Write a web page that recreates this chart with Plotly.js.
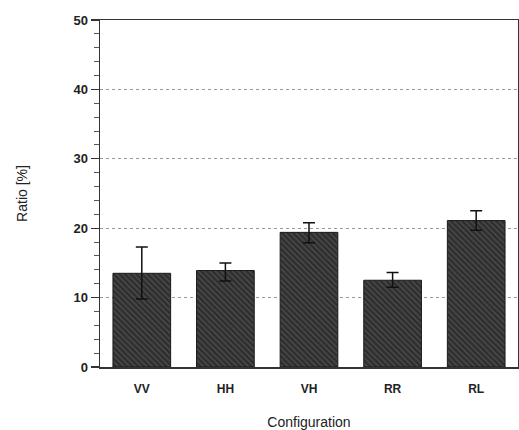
<!DOCTYPE html>
<html>
<head>
<meta charset="utf-8">
<script src="https://cdn.plot.ly/plotly-3.0.1.min.js"></script>
<style>html,body{margin:0;padding:0;background:#fff;}#chart{width:519px;height:430px;}</style>
</head>
<body>
<div id="chart"></div>
<script>
// Data
const categories = ['VV', 'HH', 'VH', 'RR', 'RL'];
const ratioValues = [13.5, 13.9, 19.4, 12.5, 21.1];
const errorPlus = [3.8, 1.1, 1.4, 1.1, 1.4];
const errorMinus = [3.7, 1.5, 1.5, 1.0, 1.4];
const yTickValues = [0, 10, 20, 30, 40, 50];
const yTickLabels = ['0', '10', '20', '30', '40', '50'];

const trace = {
  type: 'bar',
  x: categories,
  y: ratioValues,
  width: 0.69,
  marker: {
    color: '#333333',
    line: {color: '#1a1a1a', width: 1},
    pattern: {shape: '\\', fgcolor: '#4d4d4d', bgcolor: '#2e2e2e', size: 4, solidity: 0.35}
  },
  error_y: {
    type: 'data',
    symmetric: false,
    array: errorPlus,
    arrayminus: errorMinus,
    color: '#111',
    thickness: 1.5,
    width: 6
  },
  hoverinfo: 'none'
};

const layout = {
  width: 519,
  height: 430,
  margin: {l: 100, r: 1, t: 20, b: 63},
  paper_bgcolor: '#fff',
  plot_bgcolor: '#fff',
  showlegend: false,
  bargap: 0.31,
  font: {family: 'Liberation Sans, Arial, sans-serif', color: '#222'},
  xaxis: {
    type: 'category',
    range: [-0.5, 4.5],
    showline: true,
    linecolor: '#333',
    linewidth: 1.5,
    mirror: true,
    ticks: '',
    showgrid: false,
    ticklabelstandoff: 10,
    tickfont: {size: 12, color: '#222', family: 'Liberation Sans, Arial, sans-serif', weight: 'bold'},
    title: {text: 'Configuration', font: {size: 14, color: '#222'}, standoff: 22}
  },
  yaxis: {
    range: [0, 50],
    tickvals: yTickValues,
    ticktext: yTickLabels,
    ticks: 'outside',
    ticklen: 8,
    tickwidth: 1.2,
    tickcolor: '#333',
    showline: true,
    linecolor: '#333',
    linewidth: 1.5,
    mirror: true,
    showgrid: true,
    gridcolor: '#999',
    gridwidth: 1,
    griddash: 'dot',
    zeroline: false,
    minor: {dtick: 2, ticks: 'outside', ticklen: 5, tickcolor: '#555', tickwidth: 1, showgrid: false},
    tickfont: {size: 13, color: '#222', family: 'Liberation Sans, Arial, sans-serif', weight: 'bold'},
    title: {text: 'Ratio [%]', font: {size: 14, color: '#222'}, standoff: 42}
  }
};

Plotly.newPlot('chart', [trace], layout, {displayModeBar: false, staticPlot: true});
</script>
</body>
</html>
